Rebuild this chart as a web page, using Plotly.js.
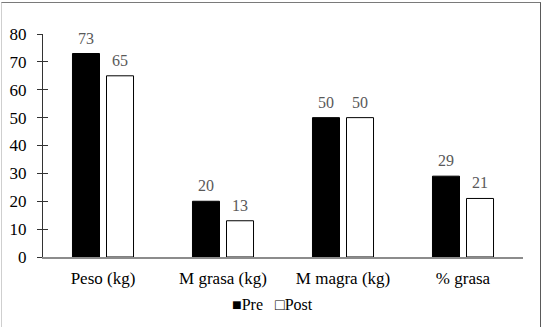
<!DOCTYPE html>
<html>
<head>
<meta charset="utf-8">
<script src="https://cdn.plot.ly/plotly-3.0.1.min.js"></script>
<style>
  html, body { margin: 0; padding: 0; background: #fff; }
  #frame {
    position: absolute; left: 1px; top: 2px; width: 540px; height: 325px;
    border-top: 1px solid #7a7a7a; border-right: 1px solid #5a5a5a; border-left: 1px solid #cfcfcf;
    box-sizing: border-box;
  }
  #chart { position: absolute; left: 0; top: 0; width: 543px; height: 327px; }
</style>
</head>
<body>
<div id="frame"></div>
<div id="chart"></div>
<script>
// Body composition before and after the intervention
const categories = ['Peso (kg)', 'M grasa (kg)', 'M magra (kg)', '% grasa'];
const preValues = [73, 20, 50, 29];
const postValues = [65, 13, 50, 21];
const seriesNames = ['Pre', 'Post'];
const yTicks = [0, 10, 20, 30, 40, 50, 60, 70, 80];

const serifFont = 'Liberation Serif';

const pre = {
  type: 'bar', name: seriesNames[0], x: categories, y: preValues,
  marker: { color: '#000000', line: { color: '#000000', width: 1 } },
  hoverinfo: 'none', showlegend: false
};
const post = {
  type: 'bar', name: seriesNames[1], x: categories, y: postValues,
  marker: { color: '#ffffff', line: { color: '#000000', width: 1 } },
  hoverinfo: 'none', showlegend: false
};
// empty traces so the two tick-mark axes are drawn
const outerTicks = { type: 'scatter', x: [], y: [], yaxis: 'y2', hoverinfo: 'none', showlegend: false };
const innerTicks = { type: 'scatter', x: [], y: [], yaxis: 'y3', hoverinfo: 'none', showlegend: false };

// value labels above each bar, offset to the bar's slot in its group
const offset = 0.1417;
const valueLabels = [];
categories.forEach((c, i) => {
  valueLabels.push({ x: i - offset, y: preValues[i], text: String(preValues[i]) });
  valueLabels.push({ x: i + offset, y: postValues[i], text: String(postValues[i]) });
});
const annotations = valueLabels.map(v => ({
  xref: 'x', yref: 'y', x: v.x, y: v.y, text: v.text,
  showarrow: false, yanchor: 'bottom', yshift: 5,
  font: { family: serifFont, size: 16, color: '#595959' }
}));

// legend line below the axis
annotations.push({
  xref: 'paper', yref: 'paper', x: 0.478, y: -0.215, xanchor: 'center', yanchor: 'middle',
  showarrow: false,
  text: '■' + seriesNames[0] + '   □' + seriesNames[1],
  font: { family: serifFont, size: 16, color: '#000000' }
});

const tickAxis = {
  overlaying: 'y', side: 'left', anchor: 'x', range: [0, 80], tickvals: yTicks,
  ticklen: 5, tickcolor: '#333333', showticklabels: false,
  showline: false, showgrid: false, zeroline: false
};

const layout = {
  width: 543, height: 327,
  font: { family: serifFont },
  margin: { l: 43, r: 20, t: 34, b: 70 },
  paper_bgcolor: 'rgba(0,0,0,0)', plot_bgcolor: 'rgba(0,0,0,0)',
  barmode: 'group', bargap: 0.433, bargroupgap: 0.206,
  showlegend: false,
  xaxis: {
    type: 'category', showline: true, linecolor: '#8c8c8c', linewidth: 1.5,
    ticks: 'outside', ticklen: 5, tickcolor: 'rgba(0,0,0,0)', showgrid: false, zeroline: false,
    tickfont: { family: serifFont, size: 17, color: '#000000' }
  },
  yaxis: {
    range: [0, 80], tickvals: yTicks, showline: true, linecolor: '#333333', linewidth: 1,
    ticks: 'outside', ticklen: 12, tickcolor: 'rgba(0,0,0,0)', showgrid: false, zeroline: false,
    tickfont: { family: serifFont, size: 17, color: '#000000' }
  },
  yaxis2: Object.assign({ ticks: 'outside' }, tickAxis),
  yaxis3: Object.assign({ ticks: 'inside' }, tickAxis),
  annotations: annotations
};

Plotly.newPlot('chart', [pre, post, outerTicks, innerTicks], layout, { displayModeBar: false, staticPlot: true });
</script>
</body>
</html>
